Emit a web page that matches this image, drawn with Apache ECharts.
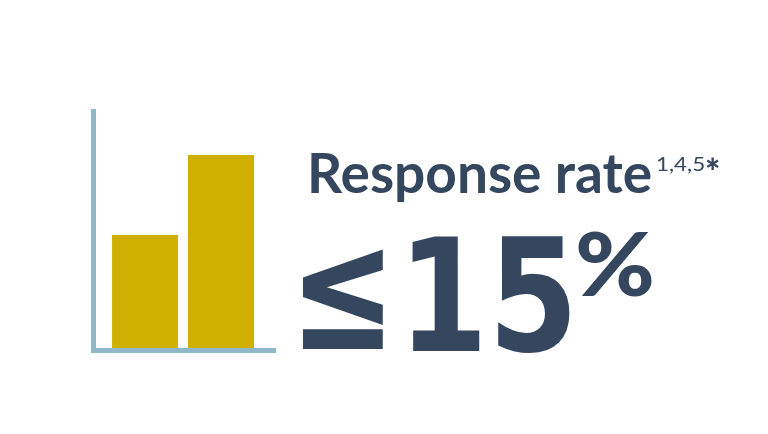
<!DOCTYPE html>
<html><head><meta charset="utf-8">
<style>html,body{margin:0;padding:0;background:#fff}#c{width:768px;height:434px}</style>
<script src="https://cdn.jsdelivr.net/npm/echarts@6/dist/echarts.min.js"></script>
</head><body><div id="c"></div>
<script>
const positions = [0, 1];
const values = [115.5, 195.5];
const title = 'Response rate';
const refs = '1,4,5';
const star = '*';
const lessEq = '≤';
const bigValue = '15';
const percent = '%';
const navy = '#35465f';
const axisColor = '#8fb9cb';
const chart = echarts.init(document.getElementById('c'), null, {renderer:'canvas'});
function label(text, x, y, sx, sy, font){
  return {type:'text', x:x, y:y, scaleX:sx, scaleY:sy, silent:true,
    style:{text:text, fill:navy, font:font}};
}
chart.setOption({
  animation:false,
  backgroundColor:'#fff',
  grid:{left:93.5,top:111.5,width:180,height:239,containLabel:false},
  xAxis:{type:'value',min:-0.678,max:1.69,z:5,
    axisLine:{show:true,onZero:false,lineStyle:{color:axisColor,width:5,cap:'square'}},
    axisTick:{show:false},axisLabel:{show:false},splitLine:{show:false}},
  yAxis:{type:'value',min:0,max:239,z:5,
    axisLine:{show:true,onZero:false,lineStyle:{color:axisColor,width:5,cap:'square'}},
    axisTick:{show:false},axisLabel:{show:false},splitLine:{show:false}},
  series:[{type:'bar',data:positions.map((p,i)=>[p,values[i]]),barWidth:66,
    itemStyle:{color:'#cfb000'},silent:true}],
  graphic:[
    label(title, 307, 148, 1, 1, '700 55px Lato'),
    label(refs, 656, 155, 1.12, 1, '400 20px Lato'),
    label(star, 705, 155, 1, 1, '900 36px Lato'),
    label(lessEq, 289.5, 219, 0.85, 1.14, '700 150px "DejaVu Sans"'),
    label(bigValue, 398, 232, 0.81, 0.98, '700 160px "DejaVu Sans"'),
    label(percent, 575, 224, 1.1, 1, '900 88px Lato')
  ]
});
</script></body></html>
